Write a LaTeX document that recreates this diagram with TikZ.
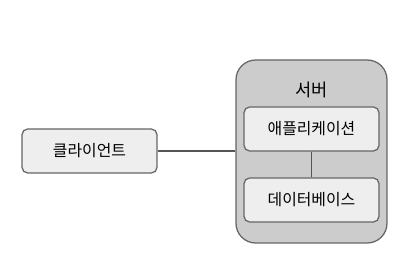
\documentclass[tikz,border=0pt]{standalone}
\usepackage{fontspec}
\usepackage{tikz}
\usetikzlibrary{positioning}
\newfontfamily\krfont{Noto Sans CJK KR}
\definecolor{mygray}{RGB}{102,102,102}
\definecolor{myline}{RGB}{85,85,85}
\definecolor{hdrlight}{RGB}{238,238,238}
\definecolor{hdrserver}{RGB}{204,204,204}
\tikzset{
  block/.style={rectangle, draw=mygray, fill=hdrlight,
    minimum width=3.375cm, minimum height=1.1cm,
    font=\krfont\fontsize{11.3}{13}\selectfont, rounded corners=4pt, line width=0.9pt},
  serverbox/.style={rectangle, draw=mygray, fill=hdrserver,
    minimum width=3.775cm, minimum height=4.575cm,
    rounded corners=14pt, line width=0.9pt},
  line/.style={line width=0.9pt, color=myline}
}
\begin{document}
\begin{tikzpicture}

  % ── Canvas ────────────────────────────────────────────────────────────────
  \useasboundingbox (0,0) rectangle (10.175,-6.675);

  % ── Server container ──────────────────────────────────────────────────────
  \node[serverbox] (server) at (7.7875, -3.7875) {};
  \node[font=\krfont\fontsize{12.5}{14}\selectfont] (title) at (7.7875, -2.25) {서버};

  % ── Server parts ──────────────────────────────────────────────────────────
  \node[block] (app) at (7.7875, -3.225) {애플리케이션};
  \node[block] (db)  at (7.7875, -5.0)   {데이터베이스};

  % ── Client ────────────────────────────────────────────────────────────────
  \node[block] (client) at (2.2375, -3.775) {클라이언트};

  % ── Connections ───────────────────────────────────────────────────────────
  \draw[line] (client.east) -- (client.east -| server.west);
  \draw[line] (app) -- (db);

\end{tikzpicture}
\end{document}
